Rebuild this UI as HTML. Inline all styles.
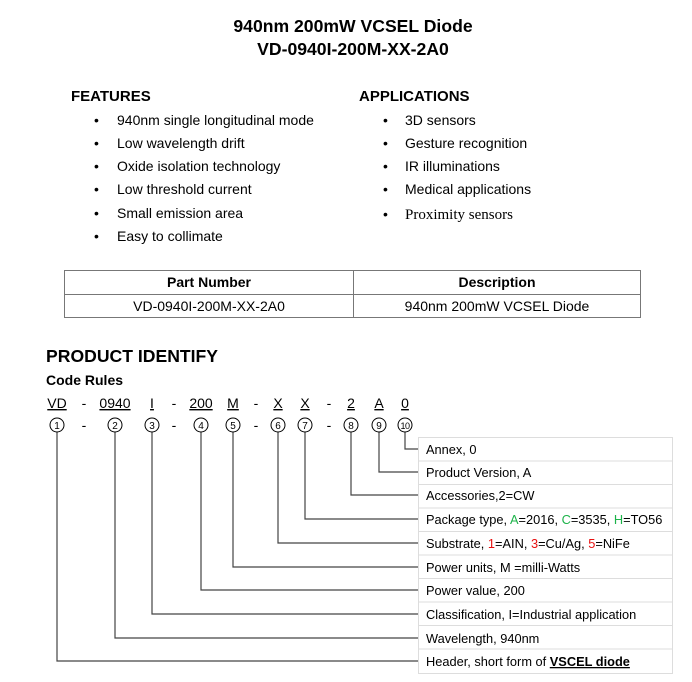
<!DOCTYPE html>
<html><head><meta charset="utf-8"><style>
html,body{margin:0;padding:0;background:#fff;width:692px;height:682px;overflow:hidden}
svg{display:block}
text{font-family:"Liberation Sans",Arial,sans-serif;fill:#000}
</style></head><body>
<svg width="692" height="682" viewBox="0 0 692 682" xmlns="http://www.w3.org/2000/svg">
<text x="353" y="32" font-size="17.6" font-weight="bold" text-anchor="middle">940nm 200mW VCSEL Diode</text>
<text x="353" y="55" font-size="17.6" font-weight="bold" text-anchor="middle">VD-0940I-200M-XX-2A0</text>

<text x="71" y="101" font-size="15" font-weight="bold">FEATURES</text>
<text x="359" y="101" font-size="15" font-weight="bold">APPLICATIONS</text>
<g font-size="14">
<text x="94" y="125">•</text><text x="117" y="125">940nm single longitudinal mode</text>
<text x="94" y="148">•</text><text x="117" y="148">Low wavelength drift</text>
<text x="94" y="171">•</text><text x="117" y="171">Oxide isolation technology</text>
<text x="94" y="194">•</text><text x="117" y="194">Low threshold current</text>
<text x="94" y="218">•</text><text x="117" y="218">Small emission area</text>
<text x="94" y="241">•</text><text x="117" y="241">Easy to collimate</text>
<text x="383" y="125">•</text><text x="405" y="125">3D sensors</text>
<text x="383" y="148">•</text><text x="405" y="148">Gesture recognition</text>
<text x="383" y="171">•</text><text x="405" y="171">IR illuminations</text>
<text x="383" y="194">•</text><text x="405" y="194">Medical applications</text>
<text x="383" y="219">•</text><text x="405" y="219" style="font-family:'Liberation Serif',serif" font-size="15">Proximity sensors</text>
</g>

<g stroke="#777" stroke-width="1" fill="none">
<rect x="64.5" y="270.5" width="576" height="47"/>
<line x1="64" y1="294.5" x2="641" y2="294.5"/>
<line x1="353.5" y1="270" x2="353.5" y2="318"/>
</g>
<text x="209" y="287" font-size="14" font-weight="bold" text-anchor="middle">Part Number</text>
<text x="497" y="287" font-size="14" font-weight="bold" text-anchor="middle">Description</text>
<text x="209" y="311" font-size="14" text-anchor="middle">VD-0940I-200M-XX-2A0</text>
<text x="497" y="311" font-size="14" text-anchor="middle">940nm 200mW VCSEL Diode</text>

<text x="46" y="362" font-size="17.6" font-weight="bold">PRODUCT IDENTIFY</text>
<text x="46" y="385" font-size="14" font-weight="bold">Code Rules</text>

<g font-size="14" text-anchor="middle">
<text x="57" y="408" text-decoration="underline">VD</text>
<text x="115" y="408" text-decoration="underline">0940</text>
<text x="152" y="408" text-decoration="underline">I</text>
<text x="201" y="408" text-decoration="underline">200</text>
<text x="233" y="408" text-decoration="underline">M</text>
<text x="278" y="408" text-decoration="underline">X</text>
<text x="305" y="408" text-decoration="underline">X</text>
<text x="351" y="408" text-decoration="underline">2</text>
<text x="379" y="408" text-decoration="underline">A</text>
<text x="405" y="408" text-decoration="underline">0</text>
</g>
<g font-size="14" text-anchor="middle">
<text x="84" y="408">-</text><text x="174" y="408">-</text><text x="256" y="408">-</text><text x="329" y="408">-</text>
<text x="84" y="430">-</text><text x="174" y="430">-</text><text x="256" y="430">-</text><text x="329" y="430">-</text>
</g>

<g stroke="#444" stroke-width="1.2" fill="none">
<polyline points="57,432 57,661 418,661"/>
<polyline points="115,432 115,638 418,638"/>
<polyline points="152,432 152,614 418,614"/>
<polyline points="201,432 201,590 418,590"/>
<polyline points="233,432 233,567 418,567"/>
<polyline points="278,432 278,543 418,543"/>
<polyline points="305,432 305,519 418,519"/>
<polyline points="351,432 351,495 418,495"/>
<polyline points="379,432 379,472 418,472"/>
<polyline points="405,432 405,449 418,449"/>
</g>
<g stroke="#000" stroke-width="1" fill="#fff">
<circle cx="57" cy="425" r="7"/><circle cx="115" cy="425" r="7"/><circle cx="152" cy="425" r="7"/>
<circle cx="201" cy="425" r="7"/><circle cx="233" cy="425" r="7"/><circle cx="278" cy="425" r="7"/>
<circle cx="305" cy="425" r="7"/><circle cx="351" cy="425" r="7"/><circle cx="379" cy="425" r="7"/>
<circle cx="405" cy="425" r="7"/>
</g>
<g font-size="10" text-anchor="middle">
<text x="57" y="429">1</text><text x="115" y="429">2</text><text x="152" y="429">3</text>
<text x="201" y="429">4</text><text x="233" y="429">5</text><text x="278" y="429">6</text>
<text x="305" y="429">7</text><text x="351" y="429">8</text><text x="379" y="429">9</text>
<text x="405" y="429" font-size="9" letter-spacing="-0.5">10</text>
</g>

<g stroke="#ddd" stroke-width="1" fill="none">
<rect x="418.5" y="437.5" width="254" height="236"/>
<line x1="418" y1="461" x2="673" y2="461"/>
<line x1="418" y1="484.5" x2="673" y2="484.5"/>
<line x1="418" y1="508" x2="673" y2="508"/>
<line x1="418" y1="531.5" x2="673" y2="531.5"/>
<line x1="418" y1="555" x2="673" y2="555"/>
<line x1="418" y1="578.5" x2="673" y2="578.5"/>
<line x1="418" y1="602" x2="673" y2="602"/>
<line x1="418" y1="625.5" x2="673" y2="625.5"/>
<line x1="418" y1="649" x2="673" y2="649"/>
</g>
<g font-size="12.8">
<text x="426" y="454">Annex, 0</text>
<text x="426" y="477">Product Version, A</text>
<text x="426" y="500">Accessories,2=CW</text>
<text x="426" y="524">Package type, <tspan fill="#1db34a">A</tspan>=2016, <tspan fill="#1db34a">C</tspan>=3535, <tspan fill="#1db34a">H</tspan>=TO56</text>
<text x="426" y="548">Substrate, <tspan fill="#e81010">1</tspan>=AIN, <tspan fill="#e81010">3</tspan>=Cu/Ag, <tspan fill="#e81010">5</tspan>=NiFe</text>
<text x="426" y="572">Power units, M =milli-Watts</text>
<text x="426" y="595">Power value, 200</text>
<text x="426" y="619">Classification, I=Industrial application</text>
<text x="426" y="643">Wavelength, 940nm</text>
<text x="426" y="666">Header, short form of <tspan font-weight="bold" text-decoration="underline">VSCEL diode</tspan></text>
</g>
</svg>
</body></html>
